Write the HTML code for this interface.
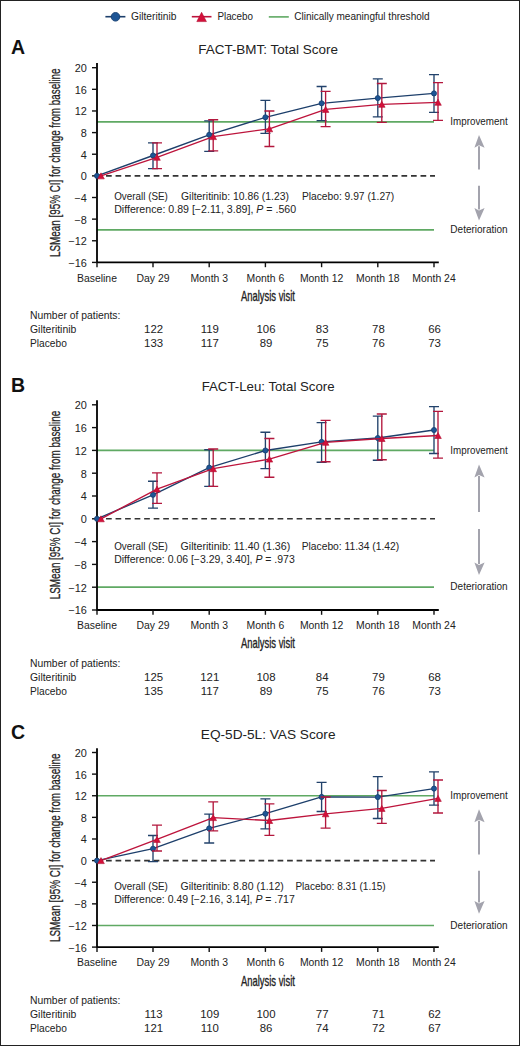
<!DOCTYPE html>
<html><head><meta charset="utf-8"><title>Figure</title>
<style>
html,body{margin:0;padding:0;background:#fff;}
body{width:520px;height:1046px;overflow:hidden;}
svg{display:block;}
text{font-family:"Liberation Sans", sans-serif;}
</style></head><body>
<svg width="520" height="1046" viewBox="0 0 520 1046" font-size="10" fill="#222222">
<rect x="0.5" y="0.5" width="519" height="1045" fill="#fff" stroke="#222" stroke-width="1"/>
<g>
<line x1="105.4" y1="16.7" x2="125.4" y2="16.7" stroke="#1d3f6b" stroke-width="1.6"/>
<circle cx="115.5" cy="16.8" r="4.3" fill="#1d5595" stroke="#163f70" stroke-width="0.9"/>
<text x="131" y="19.8" font-size="10.2" textLength="45.5" lengthAdjust="spacingAndGlyphs">Gilteritinib</text>
<line x1="191.8" y1="16.7" x2="211.5" y2="16.7" stroke="#bd143c" stroke-width="1.6"/>
<path d="M201.6 12.3L206.4 21.6L196.8 21.6Z" fill="#d4103a" stroke="#b00d30" stroke-width="0.6"/>
<text x="217.4" y="19.8" font-size="10.2" textLength="35.6" lengthAdjust="spacingAndGlyphs">Placebo</text>
<line x1="268.8" y1="16.9" x2="288.8" y2="16.9" stroke="#5fa963" stroke-width="1.6"/>
<text x="294.2" y="19.8" font-size="10.2" textLength="135.4" lengthAdjust="spacingAndGlyphs">Clinically meaningful threshold</text>
</g>
<text x="11" y="54" font-size="19.5" font-weight="bold" fill="#111">A</text>
<text x="198.2" y="54.2" font-size="13.6" textLength="139.8" lengthAdjust="spacingAndGlyphs">FACT-BMT: Total Score</text>
<line x1="97" y1="121.78" x2="434" y2="121.78" stroke="#5fa963" stroke-width="1.7"/>
<line x1="97" y1="229.95" x2="434" y2="229.95" stroke="#5fa963" stroke-width="1.7"/>
<line x1="96.5" y1="175.87" x2="435" y2="175.87" stroke="#333" stroke-width="1.6" stroke-dasharray="5.7 3.83"/>
<path d="M97 63 V262.4 H438.8" fill="none" stroke="#000" stroke-width="1.8"/>
<line x1="92" y1="67.7" x2="97" y2="67.7" stroke="#111" stroke-width="1.4"/>
<text x="86.9" y="72.1" text-anchor="end" textLength="12.12" lengthAdjust="spacingAndGlyphs">20</text>
<line x1="92" y1="89.33" x2="97" y2="89.33" stroke="#111" stroke-width="1.4"/>
<text x="86.9" y="93.73" text-anchor="end" textLength="12.12" lengthAdjust="spacingAndGlyphs">16</text>
<line x1="92" y1="110.97" x2="97" y2="110.97" stroke="#111" stroke-width="1.4"/>
<text x="86.9" y="115.37" text-anchor="end" textLength="12.12" lengthAdjust="spacingAndGlyphs">12</text>
<line x1="92" y1="132.6" x2="97" y2="132.6" stroke="#111" stroke-width="1.4"/>
<text x="86.9" y="137" text-anchor="end" textLength="6.06" lengthAdjust="spacingAndGlyphs">8</text>
<line x1="92" y1="154.23" x2="97" y2="154.23" stroke="#111" stroke-width="1.4"/>
<text x="86.9" y="158.63" text-anchor="end" textLength="6.06" lengthAdjust="spacingAndGlyphs">4</text>
<line x1="92" y1="175.87" x2="97" y2="175.87" stroke="#111" stroke-width="1.4"/>
<text x="86.9" y="180.27" text-anchor="end" textLength="6.06" lengthAdjust="spacingAndGlyphs">0</text>
<line x1="92" y1="197.5" x2="97" y2="197.5" stroke="#111" stroke-width="1.4"/>
<text x="86.9" y="201.9" text-anchor="end" textLength="12.43" lengthAdjust="spacingAndGlyphs">−4</text>
<line x1="92" y1="219.13" x2="97" y2="219.13" stroke="#111" stroke-width="1.4"/>
<text x="86.9" y="223.53" text-anchor="end" textLength="12.43" lengthAdjust="spacingAndGlyphs">−8</text>
<line x1="92" y1="240.77" x2="97" y2="240.77" stroke="#111" stroke-width="1.4"/>
<text x="86.9" y="245.17" text-anchor="end" textLength="18.49" lengthAdjust="spacingAndGlyphs">−12</text>
<line x1="92" y1="262.4" x2="97" y2="262.4" stroke="#111" stroke-width="1.4"/>
<text x="86.9" y="266.8" text-anchor="end" textLength="18.49" lengthAdjust="spacingAndGlyphs">−16</text>
<line x1="97" y1="262.4" x2="97" y2="267.2" stroke="#111" stroke-width="1.4"/>
<text x="97" y="281.6" text-anchor="middle" textLength="39.89" lengthAdjust="spacingAndGlyphs">Baseline</text>
<line x1="153" y1="262.4" x2="153" y2="267.2" stroke="#111" stroke-width="1.4"/>
<text x="153" y="281.6" text-anchor="middle" textLength="32.95" lengthAdjust="spacingAndGlyphs">Day 29</text>
<line x1="209.2" y1="262.4" x2="209.2" y2="267.2" stroke="#111" stroke-width="1.4"/>
<text x="209.2" y="281.6" text-anchor="middle" textLength="37.57" lengthAdjust="spacingAndGlyphs">Month 3</text>
<line x1="265.4" y1="262.4" x2="265.4" y2="267.2" stroke="#111" stroke-width="1.4"/>
<text x="265.4" y="281.6" text-anchor="middle" textLength="37.57" lengthAdjust="spacingAndGlyphs">Month 6</text>
<line x1="321.6" y1="262.4" x2="321.6" y2="267.2" stroke="#111" stroke-width="1.4"/>
<text x="321.6" y="281.6" text-anchor="middle" textLength="43.36" lengthAdjust="spacingAndGlyphs">Month 12</text>
<line x1="377.8" y1="262.4" x2="377.8" y2="267.2" stroke="#111" stroke-width="1.4"/>
<text x="377.8" y="281.6" text-anchor="middle" textLength="43.36" lengthAdjust="spacingAndGlyphs">Month 18</text>
<line x1="434" y1="262.4" x2="434" y2="267.2" stroke="#111" stroke-width="1.4"/>
<text x="434" y="281.6" text-anchor="middle" textLength="43.36" lengthAdjust="spacingAndGlyphs">Month 24</text>
<text x="240.9" y="300.8" font-size="14.4" textLength="54" lengthAdjust="spacingAndGlyphs" stroke="#222" stroke-width="0.35">Analysis visit</text>
<text x="0" y="0" font-size="13.9" text-anchor="middle" textLength="188.5" lengthAdjust="spacingAndGlyphs" fill="#222222" stroke="#1a1a1a" stroke-width="0.25" transform="translate(59.5 162.7) rotate(-90)">LSMean [95% CI] for change from baseline</text>
<path d="M153 142.9V168.6M148 142.9H158M148 168.6H158" stroke="#22426b" stroke-width="1.35" fill="none"/>
<path d="M209.2 120.9V151.3M204.2 120.9H214.2M204.2 151.3H214.2" stroke="#22426b" stroke-width="1.35" fill="none"/>
<path d="M265.4 100.3V133.4M260.4 100.3H270.4M260.4 133.4H270.4" stroke="#22426b" stroke-width="1.35" fill="none"/>
<path d="M321.6 86.5V120.6M316.6 86.5H326.6M316.6 120.6H326.6" stroke="#22426b" stroke-width="1.35" fill="none"/>
<path d="M377.8 78.8V116.8M372.8 78.8H382.8M372.8 116.8H382.8" stroke="#22426b" stroke-width="1.35" fill="none"/>
<path d="M434 74.6V112.4M429 74.6H439M429 112.4H439" stroke="#22426b" stroke-width="1.35" fill="none"/>
<polyline points="97,175.87 153,155.5 209.2,134.8 265.4,117.3 321.6,103.3 377.8,98.1 434,93.4" fill="none" stroke="#1d3f6b" stroke-width="1.35" stroke-linejoin="round"/>
<circle cx="97" cy="175.87" r="2.55" fill="#1d5595" stroke="#163f70" stroke-width="0.8"/>
<circle cx="153" cy="155.5" r="2.55" fill="#1d5595" stroke="#163f70" stroke-width="0.8"/>
<circle cx="209.2" cy="134.8" r="2.55" fill="#1d5595" stroke="#163f70" stroke-width="0.8"/>
<circle cx="265.4" cy="117.3" r="2.55" fill="#1d5595" stroke="#163f70" stroke-width="0.8"/>
<circle cx="321.6" cy="103.3" r="2.55" fill="#1d5595" stroke="#163f70" stroke-width="0.8"/>
<circle cx="377.8" cy="98.1" r="2.55" fill="#1d5595" stroke="#163f70" stroke-width="0.8"/>
<circle cx="434" cy="93.4" r="2.55" fill="#1d5595" stroke="#163f70" stroke-width="0.8"/>
<path d="M157 142.9V168.6M152 142.9H162M152 168.6H162" stroke="#b3173d" stroke-width="1.35" fill="none"/>
<path d="M213.2 119.7V150.9M208.2 119.7H218.2M208.2 150.9H218.2" stroke="#b3173d" stroke-width="1.35" fill="none"/>
<path d="M269.4 111V146.5M264.4 111H274.4M264.4 146.5H274.4" stroke="#b3173d" stroke-width="1.35" fill="none"/>
<path d="M325.6 91.4V126.6M320.6 91.4H330.6M320.6 126.6H330.6" stroke="#b3173d" stroke-width="1.35" fill="none"/>
<path d="M381.8 83.5V122.4M376.8 83.5H386.8M376.8 122.4H386.8" stroke="#b3173d" stroke-width="1.35" fill="none"/>
<path d="M438 82.6V120.3M433 82.6H443M433 120.3H443" stroke="#b3173d" stroke-width="1.35" fill="none"/>
<polyline points="101,175.87 157,157.3 213.2,136.6 269.4,128.8 325.6,109.4 381.8,104.3 438,102.3" fill="none" stroke="#bd143c" stroke-width="1.35" stroke-linejoin="round"/>
<path d="M101 172.87L104.3 178.87L97.7 178.87Z" fill="#d4103a" stroke="#b00d30" stroke-width="0.6" stroke-linejoin="round"/>
<path d="M157 154.3L160.3 160.3L153.7 160.3Z" fill="#d4103a" stroke="#b00d30" stroke-width="0.6" stroke-linejoin="round"/>
<path d="M213.2 133.6L216.5 139.6L209.9 139.6Z" fill="#d4103a" stroke="#b00d30" stroke-width="0.6" stroke-linejoin="round"/>
<path d="M269.4 125.8L272.7 131.8L266.1 131.8Z" fill="#d4103a" stroke="#b00d30" stroke-width="0.6" stroke-linejoin="round"/>
<path d="M325.6 106.4L328.9 112.4L322.3 112.4Z" fill="#d4103a" stroke="#b00d30" stroke-width="0.6" stroke-linejoin="round"/>
<path d="M381.8 101.3L385.1 107.3L378.5 107.3Z" fill="#d4103a" stroke="#b00d30" stroke-width="0.6" stroke-linejoin="round"/>
<path d="M438 99.3L441.3 105.3L434.7 105.3Z" fill="#d4103a" stroke="#b00d30" stroke-width="0.6" stroke-linejoin="round"/>
<text x="114.2" y="200" font-size="10.2" textLength="53.7" lengthAdjust="spacingAndGlyphs">Overall (SE)</text>
<text x="181" y="200" font-size="10.2" textLength="108" lengthAdjust="spacingAndGlyphs">Gilteritinib: 10.86 (1.23)</text>
<text x="301.9" y="200" font-size="10.2" textLength="92.3" lengthAdjust="spacingAndGlyphs">Placebo: 9.97 (1.27)</text>
<text x="114.2" y="212.5" font-size="10.2" textLength="182" lengthAdjust="spacingAndGlyphs" fill="#222222">Difference: 0.89 [−2.11, 3.89], <tspan font-style="italic">P</tspan> = .560</text>
<text x="479" y="124.5" text-anchor="middle" textLength="57.3" lengthAdjust="spacingAndGlyphs">Improvement</text>
<text x="479" y="232.7" text-anchor="middle" textLength="57.3" lengthAdjust="spacingAndGlyphs">Deterioration</text>
<line x1="479" y1="146.3" x2="479" y2="169.6" stroke="#a3a3ad" stroke-width="2"/>
<path d="M479 135L484.6 147.8L479 145.3L474.4 147.8Z" fill="#a3a3ad"/>
<line x1="479" y1="185.8" x2="479" y2="209.4" stroke="#a3a3ad" stroke-width="2"/>
<path d="M479 220.4L484.6 207.9L479 210.4L474.4 207.9Z" fill="#a3a3ad"/>
<text x="30" y="319.4" font-size="10.1" textLength="90.4" lengthAdjust="spacingAndGlyphs">Number of patients:</text>
<text x="30" y="333.2" font-size="10.1" textLength="46.3" lengthAdjust="spacingAndGlyphs">Gilteritinib</text>
<text x="30" y="347.2" font-size="10.1" textLength="36.8" lengthAdjust="spacingAndGlyphs">Placebo</text>
<text x="153.6" y="333.3" text-anchor="middle" textLength="19.02" lengthAdjust="spacingAndGlyphs">122</text>
<text x="153.6" y="347.4" text-anchor="middle" textLength="19.02" lengthAdjust="spacingAndGlyphs">133</text>
<text x="209.8" y="333.3" text-anchor="middle" textLength="18.17" lengthAdjust="spacingAndGlyphs">119</text>
<text x="209.8" y="347.4" text-anchor="middle" textLength="18.17" lengthAdjust="spacingAndGlyphs">117</text>
<text x="266" y="333.3" text-anchor="middle" textLength="19.02" lengthAdjust="spacingAndGlyphs">106</text>
<text x="266" y="347.4" text-anchor="middle" textLength="12.68" lengthAdjust="spacingAndGlyphs">89</text>
<text x="322.2" y="333.3" text-anchor="middle" textLength="12.68" lengthAdjust="spacingAndGlyphs">83</text>
<text x="322.2" y="347.4" text-anchor="middle" textLength="12.68" lengthAdjust="spacingAndGlyphs">75</text>
<text x="378.4" y="333.3" text-anchor="middle" textLength="12.68" lengthAdjust="spacingAndGlyphs">78</text>
<text x="378.4" y="347.4" text-anchor="middle" textLength="12.68" lengthAdjust="spacingAndGlyphs">76</text>
<text x="434.6" y="333.3" text-anchor="middle" textLength="12.68" lengthAdjust="spacingAndGlyphs">66</text>
<text x="434.6" y="347.4" text-anchor="middle" textLength="12.68" lengthAdjust="spacingAndGlyphs">73</text>
<text x="11" y="391.5" font-size="19.5" font-weight="bold" fill="#111">B</text>
<text x="201.7" y="390.9" font-size="13.6" textLength="132.9" lengthAdjust="spacingAndGlyphs">FACT-Leu: Total Score</text>
<line x1="97" y1="450.4" x2="434" y2="450.4" stroke="#5fa963" stroke-width="1.7"/>
<line x1="97" y1="587.2" x2="434" y2="587.2" stroke="#5fa963" stroke-width="1.7"/>
<line x1="96.5" y1="518.8" x2="435" y2="518.8" stroke="#333" stroke-width="1.6" stroke-dasharray="5.7 3.83"/>
<path d="M97 400.2 V610 H438.8" fill="none" stroke="#000" stroke-width="1.8"/>
<line x1="92" y1="404.8" x2="97" y2="404.8" stroke="#111" stroke-width="1.4"/>
<text x="86.9" y="409.2" text-anchor="end" textLength="12.12" lengthAdjust="spacingAndGlyphs">20</text>
<line x1="92" y1="427.6" x2="97" y2="427.6" stroke="#111" stroke-width="1.4"/>
<text x="86.9" y="432" text-anchor="end" textLength="12.12" lengthAdjust="spacingAndGlyphs">16</text>
<line x1="92" y1="450.4" x2="97" y2="450.4" stroke="#111" stroke-width="1.4"/>
<text x="86.9" y="454.8" text-anchor="end" textLength="12.12" lengthAdjust="spacingAndGlyphs">12</text>
<line x1="92" y1="473.2" x2="97" y2="473.2" stroke="#111" stroke-width="1.4"/>
<text x="86.9" y="477.6" text-anchor="end" textLength="6.06" lengthAdjust="spacingAndGlyphs">8</text>
<line x1="92" y1="496" x2="97" y2="496" stroke="#111" stroke-width="1.4"/>
<text x="86.9" y="500.4" text-anchor="end" textLength="6.06" lengthAdjust="spacingAndGlyphs">4</text>
<line x1="92" y1="518.8" x2="97" y2="518.8" stroke="#111" stroke-width="1.4"/>
<text x="86.9" y="523.2" text-anchor="end" textLength="6.06" lengthAdjust="spacingAndGlyphs">0</text>
<line x1="92" y1="541.6" x2="97" y2="541.6" stroke="#111" stroke-width="1.4"/>
<text x="86.9" y="546" text-anchor="end" textLength="12.43" lengthAdjust="spacingAndGlyphs">−4</text>
<line x1="92" y1="564.4" x2="97" y2="564.4" stroke="#111" stroke-width="1.4"/>
<text x="86.9" y="568.8" text-anchor="end" textLength="12.43" lengthAdjust="spacingAndGlyphs">−8</text>
<line x1="92" y1="587.2" x2="97" y2="587.2" stroke="#111" stroke-width="1.4"/>
<text x="86.9" y="591.6" text-anchor="end" textLength="18.49" lengthAdjust="spacingAndGlyphs">−12</text>
<line x1="92" y1="610" x2="97" y2="610" stroke="#111" stroke-width="1.4"/>
<text x="86.9" y="614.4" text-anchor="end" textLength="18.49" lengthAdjust="spacingAndGlyphs">−16</text>
<line x1="97" y1="610" x2="97" y2="614.8" stroke="#111" stroke-width="1.4"/>
<text x="97" y="629.2" text-anchor="middle" textLength="39.89" lengthAdjust="spacingAndGlyphs">Baseline</text>
<line x1="153" y1="610" x2="153" y2="614.8" stroke="#111" stroke-width="1.4"/>
<text x="153" y="629.2" text-anchor="middle" textLength="32.95" lengthAdjust="spacingAndGlyphs">Day 29</text>
<line x1="209.2" y1="610" x2="209.2" y2="614.8" stroke="#111" stroke-width="1.4"/>
<text x="209.2" y="629.2" text-anchor="middle" textLength="37.57" lengthAdjust="spacingAndGlyphs">Month 3</text>
<line x1="265.4" y1="610" x2="265.4" y2="614.8" stroke="#111" stroke-width="1.4"/>
<text x="265.4" y="629.2" text-anchor="middle" textLength="37.57" lengthAdjust="spacingAndGlyphs">Month 6</text>
<line x1="321.6" y1="610" x2="321.6" y2="614.8" stroke="#111" stroke-width="1.4"/>
<text x="321.6" y="629.2" text-anchor="middle" textLength="43.36" lengthAdjust="spacingAndGlyphs">Month 12</text>
<line x1="377.8" y1="610" x2="377.8" y2="614.8" stroke="#111" stroke-width="1.4"/>
<text x="377.8" y="629.2" text-anchor="middle" textLength="43.36" lengthAdjust="spacingAndGlyphs">Month 18</text>
<line x1="434" y1="610" x2="434" y2="614.8" stroke="#111" stroke-width="1.4"/>
<text x="434" y="629.2" text-anchor="middle" textLength="43.36" lengthAdjust="spacingAndGlyphs">Month 24</text>
<text x="240.9" y="648.4" font-size="14.4" textLength="54" lengthAdjust="spacingAndGlyphs" stroke="#222" stroke-width="0.35">Analysis visit</text>
<text x="0" y="0" font-size="13.9" text-anchor="middle" textLength="188.5" lengthAdjust="spacingAndGlyphs" fill="#222222" stroke="#1a1a1a" stroke-width="0.25" transform="translate(59.5 505.1) rotate(-90)">LSMean [95% CI] for change from baseline</text>
<path d="M153 481.2V508.1M148 481.2H158M148 508.1H158" stroke="#22426b" stroke-width="1.35" fill="none"/>
<path d="M209.2 449.7V486.3M204.2 449.7H214.2M204.2 486.3H214.2" stroke="#22426b" stroke-width="1.35" fill="none"/>
<path d="M265.4 432.2V468.6M260.4 432.2H270.4M260.4 468.6H270.4" stroke="#22426b" stroke-width="1.35" fill="none"/>
<path d="M321.6 422.6V462.2M316.6 422.6H326.6M316.6 462.2H326.6" stroke="#22426b" stroke-width="1.35" fill="none"/>
<path d="M377.8 416.1V460.2M372.8 416.1H382.8M372.8 460.2H382.8" stroke="#22426b" stroke-width="1.35" fill="none"/>
<path d="M434 406.6V453.5M429 406.6H439M429 453.5H439" stroke="#22426b" stroke-width="1.35" fill="none"/>
<polyline points="97,518.8 153,494.8 209.2,467.6 265.4,450.5 321.6,441.9 377.8,438 434,430" fill="none" stroke="#1d3f6b" stroke-width="1.35" stroke-linejoin="round"/>
<circle cx="97" cy="518.8" r="2.55" fill="#1d5595" stroke="#163f70" stroke-width="0.8"/>
<circle cx="153" cy="494.8" r="2.55" fill="#1d5595" stroke="#163f70" stroke-width="0.8"/>
<circle cx="209.2" cy="467.6" r="2.55" fill="#1d5595" stroke="#163f70" stroke-width="0.8"/>
<circle cx="265.4" cy="450.5" r="2.55" fill="#1d5595" stroke="#163f70" stroke-width="0.8"/>
<circle cx="321.6" cy="441.9" r="2.55" fill="#1d5595" stroke="#163f70" stroke-width="0.8"/>
<circle cx="377.8" cy="438" r="2.55" fill="#1d5595" stroke="#163f70" stroke-width="0.8"/>
<circle cx="434" cy="430" r="2.55" fill="#1d5595" stroke="#163f70" stroke-width="0.8"/>
<path d="M157 472.9V503.4M152 472.9H162M152 503.4H162" stroke="#b3173d" stroke-width="1.35" fill="none"/>
<path d="M213.2 449V486.3M208.2 449H218.2M208.2 486.3H218.2" stroke="#b3173d" stroke-width="1.35" fill="none"/>
<path d="M269.4 438.5V477.2M264.4 438.5H274.4M264.4 477.2H274.4" stroke="#b3173d" stroke-width="1.35" fill="none"/>
<path d="M325.6 420.3V461.7M320.6 420.3H330.6M320.6 461.7H330.6" stroke="#b3173d" stroke-width="1.35" fill="none"/>
<path d="M381.8 414V459.7M376.8 414H386.8M376.8 459.7H386.8" stroke="#b3173d" stroke-width="1.35" fill="none"/>
<path d="M438 411.4V458.1M433 411.4H443M433 458.1H443" stroke="#b3173d" stroke-width="1.35" fill="none"/>
<polyline points="101,518.8 157,489.1 213.2,468.7 269.4,459.1 325.6,442.3 381.8,438.5 438,435.5" fill="none" stroke="#bd143c" stroke-width="1.35" stroke-linejoin="round"/>
<path d="M101 515.8L104.3 521.8L97.7 521.8Z" fill="#d4103a" stroke="#b00d30" stroke-width="0.6" stroke-linejoin="round"/>
<path d="M157 486.1L160.3 492.1L153.7 492.1Z" fill="#d4103a" stroke="#b00d30" stroke-width="0.6" stroke-linejoin="round"/>
<path d="M213.2 465.7L216.5 471.7L209.9 471.7Z" fill="#d4103a" stroke="#b00d30" stroke-width="0.6" stroke-linejoin="round"/>
<path d="M269.4 456.1L272.7 462.1L266.1 462.1Z" fill="#d4103a" stroke="#b00d30" stroke-width="0.6" stroke-linejoin="round"/>
<path d="M325.6 439.3L328.9 445.3L322.3 445.3Z" fill="#d4103a" stroke="#b00d30" stroke-width="0.6" stroke-linejoin="round"/>
<path d="M381.8 435.5L385.1 441.5L378.5 441.5Z" fill="#d4103a" stroke="#b00d30" stroke-width="0.6" stroke-linejoin="round"/>
<path d="M438 432.5L441.3 438.5L434.7 438.5Z" fill="#d4103a" stroke="#b00d30" stroke-width="0.6" stroke-linejoin="round"/>
<text x="114.2" y="550.3" font-size="10.2" textLength="53.7" lengthAdjust="spacingAndGlyphs">Overall (SE)</text>
<text x="180.6" y="550.3" font-size="10.2" textLength="109.6" lengthAdjust="spacingAndGlyphs">Gilteritinib: 11.40 (1.36)</text>
<text x="301.7" y="550.3" font-size="10.2" textLength="97.5" lengthAdjust="spacingAndGlyphs">Placebo: 11.34 (1.42)</text>
<text x="114.2" y="562.8" font-size="10.2" textLength="180.6" lengthAdjust="spacingAndGlyphs" fill="#222222">Difference: 0.06 [−3.29, 3.40], <tspan font-style="italic">P</tspan> = .973</text>
<text x="479" y="453.5" text-anchor="middle" textLength="57.3" lengthAdjust="spacingAndGlyphs">Improvement</text>
<text x="479" y="590" text-anchor="middle" textLength="57.3" lengthAdjust="spacingAndGlyphs">Deterioration</text>
<line x1="479" y1="475.9" x2="479" y2="512" stroke="#a3a3ad" stroke-width="2"/>
<path d="M479 464.6L484.6 477.4L479 474.9L474.4 477.4Z" fill="#a3a3ad"/>
<line x1="479" y1="528.9" x2="479" y2="564" stroke="#a3a3ad" stroke-width="2"/>
<path d="M479 575L484.6 562.5L479 565L474.4 562.5Z" fill="#a3a3ad"/>
<text x="30" y="667" font-size="10.1" textLength="90.4" lengthAdjust="spacingAndGlyphs">Number of patients:</text>
<text x="30" y="680.8" font-size="10.1" textLength="46.3" lengthAdjust="spacingAndGlyphs">Gilteritinib</text>
<text x="30" y="694.8" font-size="10.1" textLength="36.8" lengthAdjust="spacingAndGlyphs">Placebo</text>
<text x="153.6" y="680.9" text-anchor="middle" textLength="19.02" lengthAdjust="spacingAndGlyphs">125</text>
<text x="153.6" y="695" text-anchor="middle" textLength="19.02" lengthAdjust="spacingAndGlyphs">135</text>
<text x="209.8" y="680.9" text-anchor="middle" textLength="19.02" lengthAdjust="spacingAndGlyphs">121</text>
<text x="209.8" y="695" text-anchor="middle" textLength="18.17" lengthAdjust="spacingAndGlyphs">117</text>
<text x="266" y="680.9" text-anchor="middle" textLength="19.02" lengthAdjust="spacingAndGlyphs">108</text>
<text x="266" y="695" text-anchor="middle" textLength="12.68" lengthAdjust="spacingAndGlyphs">89</text>
<text x="322.2" y="680.9" text-anchor="middle" textLength="12.68" lengthAdjust="spacingAndGlyphs">84</text>
<text x="322.2" y="695" text-anchor="middle" textLength="12.68" lengthAdjust="spacingAndGlyphs">75</text>
<text x="378.4" y="680.9" text-anchor="middle" textLength="12.68" lengthAdjust="spacingAndGlyphs">79</text>
<text x="378.4" y="695" text-anchor="middle" textLength="12.68" lengthAdjust="spacingAndGlyphs">76</text>
<text x="434.6" y="680.9" text-anchor="middle" textLength="12.68" lengthAdjust="spacingAndGlyphs">68</text>
<text x="434.6" y="695" text-anchor="middle" textLength="12.68" lengthAdjust="spacingAndGlyphs">73</text>
<text x="11" y="738.5" font-size="19.5" font-weight="bold" fill="#111">C</text>
<text x="200.8" y="739.4" font-size="13.6" textLength="134.7" lengthAdjust="spacingAndGlyphs">EQ-5D-5L: VAS Score</text>
<line x1="97" y1="795.74" x2="434" y2="795.74" stroke="#5fa963" stroke-width="1.7"/>
<line x1="97" y1="925.48" x2="434" y2="925.48" stroke="#5fa963" stroke-width="1.7"/>
<line x1="96.5" y1="860.61" x2="435" y2="860.61" stroke="#333" stroke-width="1.6" stroke-dasharray="5.7 3.83"/>
<path d="M97 748.3 V947.1 H438.8" fill="none" stroke="#000" stroke-width="1.8"/>
<line x1="92" y1="752.5" x2="97" y2="752.5" stroke="#111" stroke-width="1.4"/>
<text x="86.9" y="756.9" text-anchor="end" textLength="12.12" lengthAdjust="spacingAndGlyphs">20</text>
<line x1="92" y1="774.12" x2="97" y2="774.12" stroke="#111" stroke-width="1.4"/>
<text x="86.9" y="778.52" text-anchor="end" textLength="12.12" lengthAdjust="spacingAndGlyphs">16</text>
<line x1="92" y1="795.74" x2="97" y2="795.74" stroke="#111" stroke-width="1.4"/>
<text x="86.9" y="800.14" text-anchor="end" textLength="12.12" lengthAdjust="spacingAndGlyphs">12</text>
<line x1="92" y1="817.37" x2="97" y2="817.37" stroke="#111" stroke-width="1.4"/>
<text x="86.9" y="821.77" text-anchor="end" textLength="6.06" lengthAdjust="spacingAndGlyphs">8</text>
<line x1="92" y1="838.99" x2="97" y2="838.99" stroke="#111" stroke-width="1.4"/>
<text x="86.9" y="843.39" text-anchor="end" textLength="6.06" lengthAdjust="spacingAndGlyphs">4</text>
<line x1="92" y1="860.61" x2="97" y2="860.61" stroke="#111" stroke-width="1.4"/>
<text x="86.9" y="865.01" text-anchor="end" textLength="6.06" lengthAdjust="spacingAndGlyphs">0</text>
<line x1="92" y1="882.23" x2="97" y2="882.23" stroke="#111" stroke-width="1.4"/>
<text x="86.9" y="886.63" text-anchor="end" textLength="12.43" lengthAdjust="spacingAndGlyphs">−4</text>
<line x1="92" y1="903.86" x2="97" y2="903.86" stroke="#111" stroke-width="1.4"/>
<text x="86.9" y="908.26" text-anchor="end" textLength="12.43" lengthAdjust="spacingAndGlyphs">−8</text>
<line x1="92" y1="925.48" x2="97" y2="925.48" stroke="#111" stroke-width="1.4"/>
<text x="86.9" y="929.88" text-anchor="end" textLength="18.49" lengthAdjust="spacingAndGlyphs">−12</text>
<line x1="92" y1="947.1" x2="97" y2="947.1" stroke="#111" stroke-width="1.4"/>
<text x="86.9" y="951.5" text-anchor="end" textLength="18.49" lengthAdjust="spacingAndGlyphs">−16</text>
<line x1="97" y1="947.1" x2="97" y2="951.9" stroke="#111" stroke-width="1.4"/>
<text x="97" y="966.3" text-anchor="middle" textLength="39.89" lengthAdjust="spacingAndGlyphs">Baseline</text>
<line x1="153" y1="947.1" x2="153" y2="951.9" stroke="#111" stroke-width="1.4"/>
<text x="153" y="966.3" text-anchor="middle" textLength="32.95" lengthAdjust="spacingAndGlyphs">Day 29</text>
<line x1="209.2" y1="947.1" x2="209.2" y2="951.9" stroke="#111" stroke-width="1.4"/>
<text x="209.2" y="966.3" text-anchor="middle" textLength="37.57" lengthAdjust="spacingAndGlyphs">Month 3</text>
<line x1="265.4" y1="947.1" x2="265.4" y2="951.9" stroke="#111" stroke-width="1.4"/>
<text x="265.4" y="966.3" text-anchor="middle" textLength="37.57" lengthAdjust="spacingAndGlyphs">Month 6</text>
<line x1="321.6" y1="947.1" x2="321.6" y2="951.9" stroke="#111" stroke-width="1.4"/>
<text x="321.6" y="966.3" text-anchor="middle" textLength="43.36" lengthAdjust="spacingAndGlyphs">Month 12</text>
<line x1="377.8" y1="947.1" x2="377.8" y2="951.9" stroke="#111" stroke-width="1.4"/>
<text x="377.8" y="966.3" text-anchor="middle" textLength="43.36" lengthAdjust="spacingAndGlyphs">Month 18</text>
<line x1="434" y1="947.1" x2="434" y2="951.9" stroke="#111" stroke-width="1.4"/>
<text x="434" y="966.3" text-anchor="middle" textLength="43.36" lengthAdjust="spacingAndGlyphs">Month 24</text>
<text x="240.9" y="985.5" font-size="14.4" textLength="54" lengthAdjust="spacingAndGlyphs" stroke="#222" stroke-width="0.35">Analysis visit</text>
<text x="0" y="0" font-size="13.9" text-anchor="middle" textLength="188.5" lengthAdjust="spacingAndGlyphs" fill="#222222" stroke="#1a1a1a" stroke-width="0.25" transform="translate(59.5 847.7) rotate(-90)">LSMean [95% CI] for change from baseline</text>
<path d="M153 835.5V861.6M148 835.5H158M148 861.6H158" stroke="#22426b" stroke-width="1.35" fill="none"/>
<path d="M209.2 814.1V843M204.2 814.1H214.2M204.2 843H214.2" stroke="#22426b" stroke-width="1.35" fill="none"/>
<path d="M265.4 798.8V828.9M260.4 798.8H270.4M260.4 828.9H270.4" stroke="#22426b" stroke-width="1.35" fill="none"/>
<path d="M321.6 782.4V811.5M316.6 782.4H326.6M316.6 811.5H326.6" stroke="#22426b" stroke-width="1.35" fill="none"/>
<path d="M377.8 776.6V818.5M372.8 776.6H382.8M372.8 818.5H382.8" stroke="#22426b" stroke-width="1.35" fill="none"/>
<path d="M434 771.9V805.1M429 771.9H439M429 805.1H439" stroke="#22426b" stroke-width="1.35" fill="none"/>
<polyline points="97,860.61 153,848.7 209.2,828.4 265.4,813.7 321.6,796.9 377.8,797.1 434,788.6" fill="none" stroke="#1d3f6b" stroke-width="1.35" stroke-linejoin="round"/>
<circle cx="97" cy="860.61" r="2.55" fill="#1d5595" stroke="#163f70" stroke-width="0.8"/>
<circle cx="153" cy="848.7" r="2.55" fill="#1d5595" stroke="#163f70" stroke-width="0.8"/>
<circle cx="209.2" cy="828.4" r="2.55" fill="#1d5595" stroke="#163f70" stroke-width="0.8"/>
<circle cx="265.4" cy="813.7" r="2.55" fill="#1d5595" stroke="#163f70" stroke-width="0.8"/>
<circle cx="321.6" cy="796.9" r="2.55" fill="#1d5595" stroke="#163f70" stroke-width="0.8"/>
<circle cx="377.8" cy="797.1" r="2.55" fill="#1d5595" stroke="#163f70" stroke-width="0.8"/>
<circle cx="434" cy="788.6" r="2.55" fill="#1d5595" stroke="#163f70" stroke-width="0.8"/>
<path d="M157 825.1V851M152 825.1H162M152 851H162" stroke="#b3173d" stroke-width="1.35" fill="none"/>
<path d="M213.2 801.9V830.9M208.2 801.9H218.2M208.2 830.9H218.2" stroke="#b3173d" stroke-width="1.35" fill="none"/>
<path d="M269.4 803.8V835.4M264.4 803.8H274.4M264.4 835.4H274.4" stroke="#b3173d" stroke-width="1.35" fill="none"/>
<path d="M325.6 797V828.1M320.6 797H330.6M320.6 828.1H330.6" stroke="#b3173d" stroke-width="1.35" fill="none"/>
<path d="M381.8 790.5V823.3M376.8 790.5H386.8M376.8 823.3H386.8" stroke="#b3173d" stroke-width="1.35" fill="none"/>
<path d="M438 780V813M433 780H443M433 813H443" stroke="#b3173d" stroke-width="1.35" fill="none"/>
<polyline points="101,860.61 157,839.4 213.2,817.6 269.4,820.5 325.6,813.8 381.8,808.4 438,798.4" fill="none" stroke="#bd143c" stroke-width="1.35" stroke-linejoin="round"/>
<path d="M101 857.61L104.3 863.61L97.7 863.61Z" fill="#d4103a" stroke="#b00d30" stroke-width="0.6" stroke-linejoin="round"/>
<path d="M157 836.4L160.3 842.4L153.7 842.4Z" fill="#d4103a" stroke="#b00d30" stroke-width="0.6" stroke-linejoin="round"/>
<path d="M213.2 814.6L216.5 820.6L209.9 820.6Z" fill="#d4103a" stroke="#b00d30" stroke-width="0.6" stroke-linejoin="round"/>
<path d="M269.4 817.5L272.7 823.5L266.1 823.5Z" fill="#d4103a" stroke="#b00d30" stroke-width="0.6" stroke-linejoin="round"/>
<path d="M325.6 810.8L328.9 816.8L322.3 816.8Z" fill="#d4103a" stroke="#b00d30" stroke-width="0.6" stroke-linejoin="round"/>
<path d="M381.8 805.4L385.1 811.4L378.5 811.4Z" fill="#d4103a" stroke="#b00d30" stroke-width="0.6" stroke-linejoin="round"/>
<path d="M438 795.4L441.3 801.4L434.7 801.4Z" fill="#d4103a" stroke="#b00d30" stroke-width="0.6" stroke-linejoin="round"/>
<text x="114.2" y="890.3" font-size="10.2" textLength="53.7" lengthAdjust="spacingAndGlyphs">Overall (SE)</text>
<text x="180.6" y="890.3" font-size="10.2" textLength="103.2" lengthAdjust="spacingAndGlyphs">Gilteritinib: 8.80 (1.12)</text>
<text x="295.4" y="890.3" font-size="10.2" textLength="90.3" lengthAdjust="spacingAndGlyphs">Placebo: 8.31 (1.15)</text>
<text x="114.2" y="902.8" font-size="10.2" textLength="180.6" lengthAdjust="spacingAndGlyphs" fill="#222222">Difference: 0.49 [−2.16, 3.14], <tspan font-style="italic">P</tspan> = .717</text>
<text x="479" y="798.8" text-anchor="middle" textLength="57.3" lengthAdjust="spacingAndGlyphs">Improvement</text>
<text x="479" y="928.5" text-anchor="middle" textLength="57.3" lengthAdjust="spacingAndGlyphs">Deterioration</text>
<line x1="479" y1="820.8" x2="479" y2="854.6" stroke="#a3a3ad" stroke-width="2"/>
<path d="M479 809.2L484.6 822.3L479 819.8L474.4 822.3Z" fill="#a3a3ad"/>
<line x1="479" y1="870.8" x2="479" y2="902.5" stroke="#a3a3ad" stroke-width="2"/>
<path d="M479 913.8L484.6 901L479 903.5L474.4 901Z" fill="#a3a3ad"/>
<text x="30" y="1004.1" font-size="10.1" textLength="90.4" lengthAdjust="spacingAndGlyphs">Number of patients:</text>
<text x="30" y="1017.9" font-size="10.1" textLength="46.3" lengthAdjust="spacingAndGlyphs">Gilteritinib</text>
<text x="30" y="1031.9" font-size="10.1" textLength="36.8" lengthAdjust="spacingAndGlyphs">Placebo</text>
<text x="153.6" y="1018" text-anchor="middle" textLength="18.17" lengthAdjust="spacingAndGlyphs">113</text>
<text x="153.6" y="1032.1" text-anchor="middle" textLength="19.02" lengthAdjust="spacingAndGlyphs">121</text>
<text x="209.8" y="1018" text-anchor="middle" textLength="19.02" lengthAdjust="spacingAndGlyphs">109</text>
<text x="209.8" y="1032.1" text-anchor="middle" textLength="18.17" lengthAdjust="spacingAndGlyphs">110</text>
<text x="266" y="1018" text-anchor="middle" textLength="19.02" lengthAdjust="spacingAndGlyphs">100</text>
<text x="266" y="1032.1" text-anchor="middle" textLength="12.68" lengthAdjust="spacingAndGlyphs">86</text>
<text x="322.2" y="1018" text-anchor="middle" textLength="12.68" lengthAdjust="spacingAndGlyphs">77</text>
<text x="322.2" y="1032.1" text-anchor="middle" textLength="12.68" lengthAdjust="spacingAndGlyphs">74</text>
<text x="378.4" y="1018" text-anchor="middle" textLength="12.68" lengthAdjust="spacingAndGlyphs">71</text>
<text x="378.4" y="1032.1" text-anchor="middle" textLength="12.68" lengthAdjust="spacingAndGlyphs">72</text>
<text x="434.6" y="1018" text-anchor="middle" textLength="12.68" lengthAdjust="spacingAndGlyphs">62</text>
<text x="434.6" y="1032.1" text-anchor="middle" textLength="12.68" lengthAdjust="spacingAndGlyphs">67</text>
</svg>
</body></html>
